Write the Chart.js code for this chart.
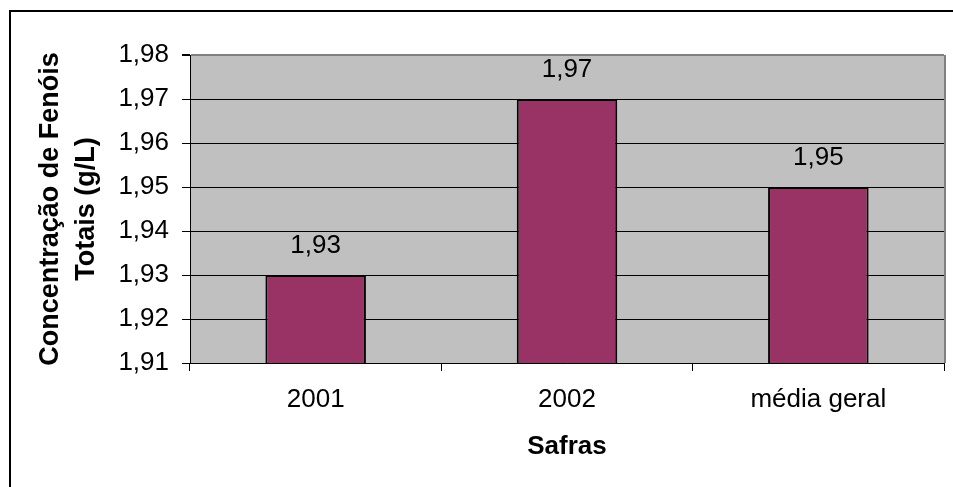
<!DOCTYPE html>
<html>
<head>
<meta charset="utf-8">
<title>Fenóis Totais</title>
<script src="https://cdn.jsdelivr.net/npm/chart.js@4"></script>
<style>
  html, body { margin: 0; padding: 0; background: #fff; }
  canvas { display: block; }
</style>
</head>
<body>
<canvas id="chart" width="953" height="487"></canvas>
<script>
// Harvest categories and total phenol concentration (g/L)
const safras = ["2001", "2002", "média geral"];
const fenois = [1.93, 1.97, 1.95];
const yMin = 1.91;
const yMax = 1.98;
const yStep = 0.01;

const FONT = "'Liberation Sans', Arial, sans-serif";

// Decimal comma for axis and bar labels
const fmt = v => v.toFixed(2).replace(".", ",");

// Gray plot background plus the partial outer frame
const backdrop = {
    id: "backdrop",
    beforeDraw(chart) {
        const { ctx, chartArea: a } = chart;
        ctx.save();
        ctx.fillStyle = "#c0c0c0";
        ctx.fillRect(a.left, a.top, a.right - a.left, a.bottom - a.top);
        ctx.strokeStyle = "#000";
        ctx.lineWidth = 2;
        ctx.beginPath();
        ctx.moveTo(10, chart.height);
        ctx.lineTo(10, 11);
        ctx.lineTo(chart.width, 11);
        ctx.stroke();
        ctx.restore();
    },
    afterDraw(chart) {
        const { ctx, chartArea: a } = chart;
        ctx.save();
        ctx.strokeStyle = "#808080";
        ctx.lineWidth = 2;
        ctx.beginPath();
        ctx.moveTo(a.right + 1, a.top);
        ctx.lineTo(a.right + 1, a.bottom);
        ctx.stroke();
        ctx.restore();
    }
};

// Value printed above each bar
const barValues = {
    id: "barValues",
    afterDatasetsDraw(chart) {
        const { ctx } = chart;
        const meta = chart.getDatasetMeta(0);
        ctx.save();
        ctx.font = "26px " + FONT;
        ctx.fillStyle = "#000";
        ctx.textAlign = "center";
        ctx.textBaseline = "middle";
        meta.data.forEach((bar, i) => {
            ctx.fillText(fmt(fenois[i]), bar.x, bar.y - 29);
        });
        ctx.restore();
    }
};

new Chart(document.getElementById("chart"), {
    type: "bar",
    data: {
        labels: safras,
        datasets: [{
            data: fenois,
            backgroundColor: "#993366",
            borderColor: "#000",
            borderWidth: 2,
            borderSkipped: false,
            categoryPercentage: 1,
            barPercentage: 0.4
        }]
    },
    options: {
        responsive: false,
        animation: false,
        layout: { padding: { top: 55, right: 9, left: 0, bottom: 0 } },
        plugins: {
            legend: { display: false },
            tooltip: { enabled: false }
        },
        scales: {
            x: {
                grid: {
                    offset: true,
                    drawOnChartArea: false,
                    color: "#000",
                    tickLength: 8
                },
                border: { color: "#000", width: 1 },
                ticks: {
                    color: "#000",
                    padding: 13,
                    font: { family: FONT, size: 26 }
                },
                title: {
                    display: true,
                    text: "Safras",
                    color: "#000",
                    padding: { bottom: 25 },
                    font: { family: FONT, size: 26, weight: "bold" }
                },
                afterFit(scale) { scale.height = 124; }
            },
            y: {
                min: yMin,
                max: yMax,
                grid: {
                    color: c => (c.tick && Math.abs(c.tick.value - yMax) < 1e-6) ? "#808080" : "#000",
                    lineWidth: c => (c.tick && Math.abs(c.tick.value - yMax) < 1e-6) ? 2 : 1,
                    tickColor: "#000",
                    tickLength: 8
                },
                border: { color: "#000", width: 1 },
                ticks: {
                    stepSize: yStep,
                    color: "#000",
                    padding: 13,
                    font: { family: FONT, size: 26 },
                    callback: v => fmt(v)
                },
                title: {
                    display: true,
                    text: ["Concentração de Fenóis", "Totais (g/L)"],
                    color: "#000",
                    padding: { top: 33 },
                    font: { family: FONT, size: 27, weight: "bold", lineHeight: "36px" }
                },
                afterFit(scale) { scale.width = 190; }
            }
        }
    },
    plugins: [backdrop, barValues]
});
</script>
</body>
</html>
